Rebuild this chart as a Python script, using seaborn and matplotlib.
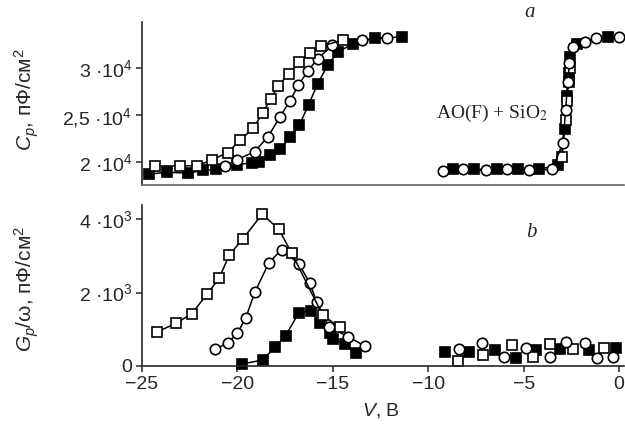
import matplotlib
matplotlib.use("Agg")
import matplotlib.pyplot as plt
import seaborn as sns
import numpy as np

# ---------------- data (V in volts, Cp in 1e4 pF/cm2, G/w in 1e3 pF/cm2) -------------
# top panel, left group
cp_sq_v = [-24.3, -23.0, -22.1, -21.35, -20.5, -19.87, -19.17, -18.68, -18.26, -17.86, -17.3, -16.76, -16.2, -15.64, -14.45]
cp_sq = [1.957, 1.957, 1.96, 2.02, 2.10, 2.23, 2.36, 2.52, 2.67, 2.81, 2.94, 3.06, 3.16, 3.23, 3.30]
cp_ci_v = [-20.65, -20.04, -19.1, -18.39, -17.77, -17.25, -16.8, -16.3, -15.8, -15.02, -13.45, -12.16]
cp_ci = [1.957, 2.02, 2.11, 2.27, 2.48, 2.65, 2.82, 2.97, 3.10, 3.24, 3.30, 3.32]
cp_fs_v = [-24.62, -23.7, -22.58, -21.8, -21.1, -20.04, -19.26, -18.86, -18.3, -17.75, -17.27, -16.76, -16.27, -15.8, -15.27, -14.75, -13.92, -12.8, -11.38]
cp_fs = [1.87, 1.89, 1.88, 1.91, 1.92, 1.97, 1.99, 2.00, 2.07, 2.14, 2.26, 2.39, 2.61, 2.83, 3.03, 3.17, 3.26, 3.32, 3.33]
# top panel, right group
cpr_ci_v = [-9.25, -8.2, -7.0, -5.9, -4.7, -3.5, -2.95, -2.8, -2.7, -2.6, -2.4, -1.8, -1.2, 0.0]
cpr_ci = [1.90, 1.92, 1.91, 1.92, 1.91, 1.92, 2.20, 2.55, 2.85, 3.05, 3.22, 3.28, 3.32, 3.33]
cpr_fs_v = [-8.7, -7.6, -6.4, -5.3, -4.2, -3.2, -2.85, -2.75, -2.65, -2.55, -2.2, -0.6]
cpr_fs = [1.92, 1.92, 1.92, 1.92, 1.92, 1.97, 2.35, 2.70, 2.95, 3.12, 3.26, 3.33]
cpr_sq_v = [-3.0, -2.8, -2.72, -2.65, -2.58]
cpr_sq = [2.05, 2.45, 2.65, 2.85, 3.00]
# bottom panel, left group
g_sq_v = [-24.2, -23.22, -22.4, -21.58, -20.95, -20.43, -19.7, -18.7, -17.83, -17.16, -15.54, -14.65]
g_sq = [0.93, 1.16, 1.42, 1.96, 2.40, 3.02, 3.47, 4.14, 3.72, 3.08, 1.39, 1.05]
g_ci_v = [-21.18, -20.48, -20.01, -19.57, -19.08, -18.35, -17.69, -16.78, -16.2, -15.85, -15.19, -14.2, -13.32]
g_ci = [0.45, 0.63, 0.89, 1.30, 2.02, 2.81, 3.17, 2.78, 2.25, 1.75, 1.05, 0.80, 0.54]
g_fs_v = [-19.78, -18.68, -18.04, -17.48, -16.78, -16.17, -15.68, -15.16, -14.98, -14.37, -13.8]
g_fs = [0.05, 0.16, 0.51, 0.82, 1.45, 1.50, 1.18, 0.89, 0.73, 0.60, 0.35]
# bottom panel, right group (scattered points)
gr_ci_v = [-8.39, -7.21, -6.05, -4.9, -3.64, -2.76, -1.81, -1.16, -0.32]
gr_ci = [0.45, 0.62, 0.25, 0.50, 0.25, 0.66, 0.63, 0.21, 0.24]
gr_sq_v = [-8.44, -7.13, -5.59, -4.51, -3.64, -2.42, -0.81]
gr_sq = [0.14, 0.30, 0.57, 0.25, 0.60, 0.45, 0.48]
gr_fs_v = [-9.14, -7.86, -6.52, -5.38, -4.34, -3.12, -1.58, -0.15]
gr_fs = [0.37, 0.37, 0.44, 0.21, 0.44, 0.45, 0.44, 0.48]

x_ticks = [-25, -20, -15, -10, -5, 0]
top_ticks = [2.0e4, 2.5e4, 3.0e4]
top_tick_labels = ["2 ·10$^4$", "2,5 ·10$^4$", "3 ·10$^4$"]
bot_ticks = [0, 2e3, 4e3]
bot_tick_labels = ["0", "2 ·10$^3$", "4 ·10$^3$"]

# ---------------- style ----------------
sns.set_style("ticks")
plt.rcParams["font.family"] = ["Liberation Sans", "DejaVu Sans"]
plt.rcParams["mathtext.fontset"] = "custom"
plt.rcParams["mathtext.rm"] = "Liberation Sans"
plt.rcParams["mathtext.it"] = "Liberation Sans:italic"
plt.rcParams["axes.linewidth"] = 1.2

fig = plt.figure(figsize=(6.25, 4.32), dpi=100)
ax1 = fig.add_axes([0.2272, 0.572, 0.771, 0.377])
ax2 = fig.add_axes([0.2272, 0.153, 0.771, 0.372])

MS = 7.5
MEW = 1.2

def draw(ax, xs, ys, kind, scale, line=True):
    ys = np.asarray(ys) * scale
    if kind == "sq":
        kw = dict(marker="s", markerfacecolor="white", markeredgecolor="black")
    elif kind == "ci":
        kw = dict(marker="o", markerfacecolor="white", markeredgecolor="black")
    else:
        kw = dict(marker="s", markerfacecolor="black", markeredgecolor="black")
    sns.lineplot(x=xs, y=ys, ax=ax, sort=False, estimator=None, color="black",
                 linewidth=1.1 if line else 0, markersize=MS, markeredgewidth=MEW,
                 clip_on=False, **kw)

# top panel
draw(ax1, cp_fs_v, cp_fs, "fs", 1e4)
draw(ax1, cp_ci_v, cp_ci, "ci", 1e4)
draw(ax1, cp_sq_v, cp_sq, "sq", 1e4)
draw(ax1, cpr_fs_v, cpr_fs, "fs", 1e4)
draw(ax1, cpr_sq_v, cpr_sq, "sq", 1e4)
draw(ax1, cpr_ci_v, cpr_ci, "ci", 1e4)

# bottom panel
draw(ax2, g_fs_v, g_fs, "fs", 1e3)
draw(ax2, g_ci_v, g_ci, "ci", 1e3)
draw(ax2, g_sq_v, g_sq, "sq", 1e3)
draw(ax2, gr_fs_v, gr_fs, "fs", 1e3, line=False)
draw(ax2, gr_sq_v, gr_sq, "sq", 1e3, line=False)
draw(ax2, gr_ci_v, gr_ci, "ci", 1e3, line=False)

for ax in (ax1, ax2):
    ax.set_xlim(-25, 0.25)
    ax.spines["top"].set_visible(False)
    ax.spines["right"].set_visible(False)
    ax.tick_params(direction="out", length=4, width=1.1, labelsize=14, pad=3)
    ax.set_xlabel("")
    ax.set_ylabel("")

ax1.set_ylim(1.755e4, 3.49e4)
ax1.set_yticks(top_ticks)
ax1.set_yticklabels(top_tick_labels)
ax1.set_xticks([])
ax1.spines["bottom"].set_color("#666666")

ax2.set_ylim(0, 4.38e3)
ax2.set_yticks(bot_ticks)
ax2.set_yticklabels(bot_tick_labels)
ax2.set_xticks(x_ticks)
ax2.set_xticklabels([f"{t}".replace("-", "\u2212") for t in x_ticks])

fig.text(0.043, 0.77, "$C_p$, пФ/см$^2$", rotation=90, ha="center", va="center", fontsize=15)
fig.text(0.043, 0.33, "$G_p$/ω, пФ/см$^2$", rotation=90, ha="center", va="center", fontsize=15)
fig.text(0.61, 0.05, "$V$, В", ha="center", va="center", fontsize=14)

fig.text(0.848, 0.972, "a", fontsize=15, style="italic", family="Liberation Serif", ha="center", va="center")
fig.text(0.850, 0.461, "b", fontsize=15, style="italic", family="Liberation Serif", ha="center", va="center")
t = fig.text(0.697, 0.738, "AO(F) + SiO$_2$", fontsize=14, family="Liberation Serif", ha="left", va="center")
t.set_math_fontfamily("stix")

fig.savefig("out.png", dpi=100)
